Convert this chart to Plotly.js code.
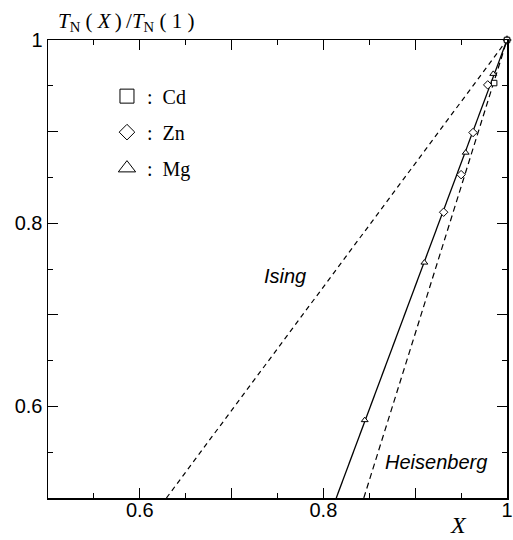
<!DOCTYPE html>
<html><head><meta charset="utf-8">
<script src="https://cdn.plot.ly/plotly-3.0.1.min.js"></script>
<style>body{margin:0;background:#fff}</style>
</head><body><div id="chart" style="width:513px;height:540px"></div>
<script>
// Data
const cdX = [1.0, 0.986];
const cdY = [1.0, 0.953];
const znX = [1.0, 0.979, 0.963, 0.950, 0.931];
const znY = [1.0, 0.951, 0.899, 0.853, 0.812];
const mgX = [0.985, 0.955, 0.910, 0.845];
const mgY = [0.963, 0.877, 0.757, 0.585];
const expLineX = [0.814, 1.0];
const expLineY = [0.5, 1.0];
const isingX = [0.629, 1.0];
const isingY = [0.5, 1.0];
const heisX = [0.844, 1.0];
const heisY = [0.5, 1.0];
const tickVals = [0.5, 0.6, 0.7, 0.8, 0.9, 1.0];
const tickText = ['', '0.6', '', '0.8', '', '1'];
const legendNames = [':\u00a0\u00a0Cd', ':\u00a0\u00a0Zn', ':\u00a0\u00a0Mg'];
const symbols = ['square', 'diamond', 'triangle-up'];

const serif = 'Liberation Serif, Times New Roman, serif';
const sans = 'Liberation Sans, Arial, Helvetica, sans-serif';

const mk = (sym, size) => ({symbol: sym, size: size, color: 'white', line: {color: 'black', width: 1}});

const traces = [
  {x: isingX, y: isingY, mode: 'lines', line: {color: 'black', width: 1.2, dash: '5px,4px'}, showlegend: false, hoverinfo: 'skip'},
  {x: heisX, y: heisY, mode: 'lines', line: {color: 'black', width: 1.2, dash: '6px,4px'}, showlegend: false, hoverinfo: 'skip'},
  {x: expLineX, y: expLineY, mode: 'lines', line: {color: 'black', width: 1.3}, showlegend: false, hoverinfo: 'skip'},
  {x: mgX, y: mgY, mode: 'markers', marker: mk('triangle-up', 6), showlegend: false, cliponaxis: false},
  {x: znX, y: znY, mode: 'markers', marker: mk('diamond', 6.5), showlegend: false, cliponaxis: false},
  {x: cdX, y: cdY, mode: 'markers', marker: mk('square', 5.5), showlegend: false, cliponaxis: false},
];
// legend keys (no data, legend only)
const legendSizes = [14, 12, 15];
for (let i = 0; i < 3; i++) {
  traces.push({x: [null], y: [null], mode: 'markers', name: legendNames[i],
    legendgroup: 'g' + i, marker: mk(symbols[i], legendSizes[i]), showlegend: true});
}

const axisBase = {
  range: [0.5, 1.0], tickmode: 'array', tickvals: tickVals, ticktext: tickText,
  ticks: 'inside', ticklen: 10, tickwidth: 1.2, tickcolor: 'black',
  showline: true, linewidth: 1.5, linecolor: 'black', mirror: 'allticks',
  showgrid: false, zeroline: false,
  tickfont: {family: sans, size: 20, color: 'black'},
  minor: {tickmode: 'linear', tick0: 0.5, dtick: 0.05, ticks: 'inside', ticklen: 5, tickwidth: 1, tickcolor: 'black', showgrid: false}
};

const layout = {
  width: 513, height: 540,
  margin: {l: 48, r: 6, t: 40, b: 42},
  paper_bgcolor: 'white', plot_bgcolor: 'white',
  xaxis: Object.assign({}, axisBase, {ticklabelstandoff: -7}),
  yaxis: Object.assign({}, axisBase),
  showlegend: true,
  legend: {x: 0.1285, y: 0.92, xanchor: 'left', yanchor: 'top', bgcolor: 'rgba(0,0,0,0)',
    borderwidth: 0, font: {family: serif, size: 20, color: 'black'},
    traceorder: 'grouped', tracegroupgap: 7},
  annotations: [
    {xref: 'paper', yref: 'paper', x: 0.17, y: 1.039, xanchor: 'center', yanchor: 'middle', showarrow: false,
     text: '<i>T</i><sub>N</sub>\u00a0(\u00a0<i>X</i>\u2009)\u2009/<i>T</i><sub>N</sub>\u00a0(\u00a01\u00a0)',
     font: {family: serif, size: 21, color: 'black'}},
    {xref: 'paper', yref: 'paper', x: 0.895, y: -0.059, xanchor: 'center', yanchor: 'middle', showarrow: false,
     text: '<i>X</i>', font: {family: serif, size: 24, color: 'black'}},
    {xref: 'x', yref: 'y', x: 0.758, y: 0.742, xanchor: 'center', yanchor: 'middle', showarrow: false,
     text: '<i>Ising</i>', font: {family: sans, size: 20, color: 'black'}},
    {xref: 'x', yref: 'y', x: 0.9227, y: 0.539, xanchor: 'center', yanchor: 'middle', showarrow: false,
     text: '<i>Heisenberg</i>', font: {family: sans, size: 20, color: 'black'}}
  ]
};

Plotly.newPlot('chart', traces, layout, {staticPlot: true, displayModeBar: false});
</script></body></html>
